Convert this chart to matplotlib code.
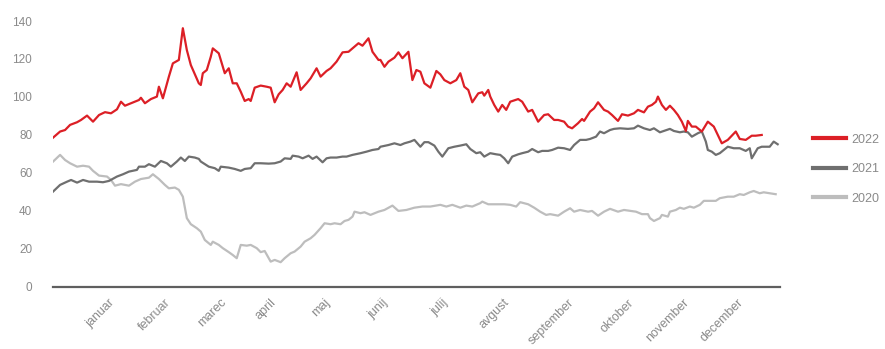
import matplotlib
matplotlib.use("Agg")
import matplotlib.pyplot as plt
from matplotlib.lines import Line2D

plt.rcParams['font.family'] = ['Liberation Sans', 'DejaVu Sans']

# x = day of year (approx.), y = price
days_2022 = [0, 3.5, 6, 8.5, 12, 14, 17, 20, 23, 26, 29, 32, 34, 36, 39, 43, 44, 46, 49, 52,
             53, 55, 58, 60, 63, 65, 67, 69, 73, 74, 75, 77, 79, 80, 83, 86, 88, 90, 92, 94,
             96, 98, 99, 101, 104, 107, 109, 111, 113, 115, 117, 119, 122, 124, 127, 129, 132,
             134, 137, 139, 142, 145, 148, 150, 153, 155, 158, 160, 163, 164, 166, 168, 171,
             173, 175, 178, 180, 182, 184, 186, 189, 192, 194, 196, 199, 202, 204, 206, 208,
             210, 213, 215, 216, 218, 219, 221, 223, 225, 227, 229, 233, 235, 238, 240, 243,
             246, 248, 251, 253, 256, 258, 260, 263, 265, 266, 269, 271, 273, 276, 278, 280,
             283, 285, 288, 291, 293, 296, 298, 300, 302, 303, 305, 307, 309, 311, 313, 315,
             317, 318, 320, 322, 323, 325, 328, 331, 333, 335, 338, 342, 344, 347, 350, 352, 355]
vals_2022 = [78.6, 81.8, 82.6, 85.3, 86.7, 87.9, 90.2, 87, 90.5, 92, 91.4, 93.5, 97.5, 95.4,
             96.7, 98.4, 99.6, 96.7, 98.9, 100.2, 105.4, 99.3, 110.7, 117.7, 119.5, 136.2,
             124.7, 116.8, 107.2, 106.3, 112.5, 114.2, 121.2, 125.6, 123, 112.5, 115.1, 107.2,
             107.2, 102.8, 97.9, 98.9, 97.9, 104.9, 106, 105.4, 104.9, 97.2, 101.4, 103.7,
             107.2, 105.4, 113, 103.7, 107.2, 109.8, 115.1, 110.7, 113.7, 115.1, 118.6, 123.5,
             123.8, 125.6, 128.3, 127, 130.9, 123.8, 119.5, 119.5, 115.9, 118.6, 120.7, 123.5,
             120.4, 123.8, 108.9, 114.2, 113.3, 107.2, 104.9, 113.7, 111.9, 108.9, 107.2, 108.9,
             112.5, 105.4, 103.7, 97.2, 101.9, 102.5, 100.7, 103.7, 100.2, 95.8, 92.3, 95.8,
             93.2, 97.5, 98.9, 97.5, 92.3, 93.2, 87, 90.5, 90.9, 87.9, 87.9, 87, 84.4, 83.5,
             86.2, 88.4, 87.4, 92.3, 94, 97.2, 93.2, 92.3, 90.5, 87.4, 90.9, 90.2, 91.4, 93.2,
             91.9, 94.9, 95.8, 97.5, 100.2, 95.8, 93.2, 95.4, 93.2, 90.5, 87, 82.1, 87.4, 84.4,
             84.4, 83.5, 81.8, 87, 84.4, 80, 75.6, 77.4, 81.8, 77.9, 77.4, 79.6, 79.6, 80]

days_2021 = [0, 3.5, 7, 9, 12, 15, 18, 22, 25, 28, 32, 35, 38, 42, 43, 46, 48, 51, 54, 57, 59,
             62, 64, 66, 68, 71, 73, 74, 78, 81, 83, 84, 88, 91, 94, 96, 99, 101, 104, 108, 111,
             114, 116, 119, 120, 123, 125, 128, 130, 132, 135, 137, 139, 142, 145, 147, 150, 154,
             157, 160, 163, 164, 168, 171, 174, 176, 179, 181, 184, 186, 188, 191, 193, 195, 198,
             201, 204, 207, 209, 212, 214, 216, 219, 222, 224, 226, 228, 230, 233, 235, 238, 240,
             243, 245, 248, 250, 253, 256, 259, 261, 264, 267, 269, 272, 274, 276, 279, 281, 284,
             288, 291, 293, 296, 299, 301, 304, 306, 309, 311, 314, 316, 318, 320, 323, 325, 327,
             328, 330, 332, 334, 338, 341, 344, 347, 349, 350, 353, 355, 359, 361, 363]
vals_2021 = [50.2, 53.7, 55.4, 56.3, 54.9, 56.3, 55.4, 55.4, 55.1, 55.8, 58.1, 59.3, 60.7, 61.6,
             63.3, 63.3, 64.6, 63.3, 66.3, 65.1, 63.3, 66, 68.1, 66.3, 68.6, 68.1, 67.4, 66,
             63.3, 62.5, 61.1, 63.3, 62.8, 62.1, 61.1, 62.1, 62.5, 65.1, 65.1, 64.9, 65.1, 66,
             67.7, 67.4, 69.1, 68.6, 67.7, 69.1, 67.4, 68.6, 65.6, 67.7, 68.1, 68.1, 68.6, 68.6,
             69.5, 70.4, 71.2, 72.1, 72.6, 73.8, 74.7, 75.6, 74.7, 75.6, 76.5, 77.4, 73.8, 76.2,
             76.2, 74.4, 71.2, 68.6, 73, 73.8, 74.4, 75.1, 72.6, 70.4, 70.9, 68.6, 70.4, 69.8,
             69.5, 67.7, 65.1, 68.6, 69.8, 70.4, 71.2, 72.6, 70.9, 71.6, 71.6, 72.1, 73.3, 73,
             72.1, 74.7, 77.4, 77.4, 77.9, 79.1, 81.8, 80.9, 82.6, 83.2, 83.5, 83.2, 83.5, 84.9,
             83.5, 82.6, 83.5, 81.4, 82.1, 83.2, 82.1, 81.4, 81.8, 81.4, 79.1, 80.9, 81.8, 76.5,
             72.1, 71.2, 69.5, 70.4, 73.8, 73, 73, 71.6, 73, 67.7, 73, 73.8, 73.8, 76.5, 75.1]

days_2020 = [0, 3.5, 6, 8.5, 12, 15, 18, 20, 23, 27, 29, 31, 34, 38, 41, 44, 48, 50, 53, 56, 58,
             61, 63, 65, 67, 69, 72, 74, 76, 79, 80, 83, 85, 88, 90, 92, 94, 97, 99, 102, 104,
             106, 109, 111, 114, 116, 119, 121, 124, 126, 129, 131, 134, 136, 139, 141, 144, 146,
             148, 150, 151, 154, 156, 159, 163, 166, 170, 173, 177, 181, 185, 189, 194, 197, 200,
             204, 207, 210, 214, 215, 218, 222, 226, 229, 232, 234, 238, 241, 244, 247, 249, 253,
             256, 259, 261, 264, 268, 270, 273, 276, 279, 283, 286, 292, 295, 298, 299, 301, 304,
             305, 308, 309, 312, 314, 316, 319, 321, 324, 326, 329, 332, 334, 338, 341, 344, 346,
             349, 351, 354, 356, 359, 362]
vals_2020 = [66, 69.5, 66.8, 65.1, 63.3, 63.8, 63.3, 61.1, 58.6, 58.1, 56.3, 53.3, 54.1, 53.3,
             55.4, 56.8, 57.5, 59.3, 56.8, 53.7, 51.9, 52.3, 51.1, 47.5, 36.2, 33, 30.9, 29.1,
             24.7, 22.1, 23.8, 22.1, 20.4, 18.3, 16.8, 15.1, 22.1, 21.7, 22.1, 20.4, 18.3, 18.9,
             13.3, 14.2, 13, 15.1, 17.7, 18.6, 21.2, 23.8, 25.6, 27.4, 30.9, 33.5, 33, 33.5, 33,
             34.7, 35.3, 37, 39.6, 38.8, 39.3, 37.9, 39.6, 40.5, 42.8, 40, 40.5, 41.7, 42.3, 42.3,
             43.2, 42.3, 43.2, 41.7, 42.8, 42.3, 44.1, 44.9, 43.5, 43.5, 43.5, 43.2, 42.3, 44.6,
             43.5, 41.7, 39.6, 37.9, 38.3, 37.5, 39.6, 41.4, 39.6, 40.5, 39.6, 40, 37.5, 39.6,
             41.1, 39.6, 40.5, 39.6, 38.3, 38.3, 36.2, 34.7, 36.2, 37.9, 37, 39.6, 40.5, 41.7,
             41.1, 42.3, 41.7, 43.2, 45.3, 45.3, 45.3, 46.7, 47.5, 47.5, 48.8, 48.4, 49.8, 50.5,
             49.3, 49.8, 49.3, 48.8]

months = ['januar', 'februar', 'marec', 'april', 'maj', 'junij', 'julij', 'avgust',
          'september', 'oktober', 'november', 'december']
month_ticks = [32, 60, 88, 113, 140, 169, 199, 230, 262, 292, 320, 347]

red = '#dc1f26'
dark = '#6f6f6f'
light = '#bdbdbd'
txt = '#8a8a8a'

fig = plt.figure(figsize=(8.85, 3.49), dpi=100)
ax = fig.add_axes([0.06, 0.178, 0.821, 0.789])

ax.plot(days_2020, vals_2020, color=light, lw=1.6, label='2020')
ax.plot(days_2021, vals_2021, color=dark, lw=1.6, label='2021')
ax.plot(days_2022, vals_2022, color=red, lw=1.6, label='2022')

ax.set_xlim(0, 364)
ax.set_ylim(0, 145)
ax.set_yticks(range(0, 141, 20))
ax.set_xticks(month_ticks)
ax.set_xticklabels(months, rotation=45, ha='right', rotation_mode='default')

for s in ['top', 'right', 'left']:
    ax.spines[s].set_visible(False)
ax.spines['bottom'].set_color('#5f5f5f')
ax.spines['bottom'].set_linewidth(1.6)
ax.tick_params(axis='both', length=0, colors=txt, labelsize=8.5)
ax.tick_params(axis='x', labelsize=9, pad=7)
ax.tick_params(axis='y', pad=15)

handles = [Line2D([], [], color=red, lw=3),
           Line2D([], [], color=dark, lw=3),
           Line2D([], [], color=light, lw=3)]
leg = ax.legend(handles, ['2022', '2021', '2020'], loc='center left',
                bbox_to_anchor=(1.046, 0.428), frameon=False, fontsize=9,
                handlelength=2.6, handletextpad=0.45, labelspacing=1.4,
                borderaxespad=0, borderpad=0)
for t in leg.get_texts():
    t.set_color(txt)

fig.savefig('out.png', dpi=100)
